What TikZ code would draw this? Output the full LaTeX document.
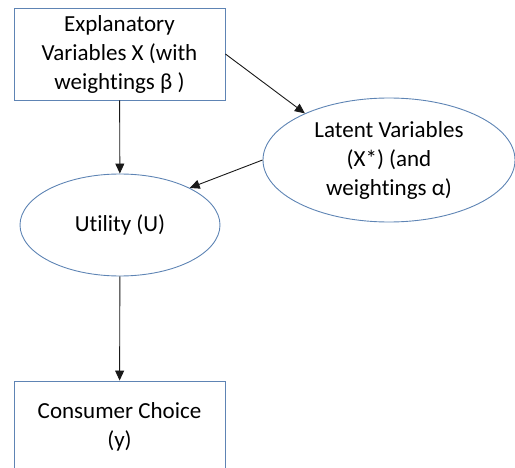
\documentclass[tikz,border=0pt]{standalone}
\usepackage{fontspec}
\setmainfont{Carlito}[Ligatures=NoCommon]
\usepackage{xcolor}
\usetikzlibrary{arrows.meta,shapes.geometric}
\definecolor{edgeblue}{RGB}{94,132,180}

\begin{document}
\begin{tikzpicture}[x=1pt,y=-1pt,>={Triangle[length=10pt,width=9pt]},
  varbox/.style={draw=edgeblue,line width=0.9pt,minimum width=211pt,minimum height=92pt,
    inner sep=0pt,align=center,font=\fontsize{23}{29}\selectfont},
  varell/.style={ellipse,draw=edgeblue,line width=0.9pt,inner sep=0pt,align=center,
    font=\fontsize{23}{29}\selectfont},
  link/.style={->,line width=0.9pt,black!90}]
\useasboundingbox (0,0) rectangle (515,468);
% nodes
\node[varbox] (x) at (119.5,54) {Explanatory\\Variables X (with\\weightings β )};
\node[varell,minimum width=252pt,minimum height=124pt] (lat) at (389,160) {Latent Variables\\(X*) (and\\weightings α)};
\node[varell,minimum width=200pt,minimum height=102pt] (u) at (120,225) {Utility (U)};
\node[varbox] (y) at (119.5,427) {Consumer Choice\\(y)};
% connectors
\draw[link] (x) -- (u);
\draw[link] (x.east) -- (lat.151);
\draw[link] (lat.west) -- (u.28);
\draw[link] (u) -- (y);
\end{tikzpicture}
\end{document}
